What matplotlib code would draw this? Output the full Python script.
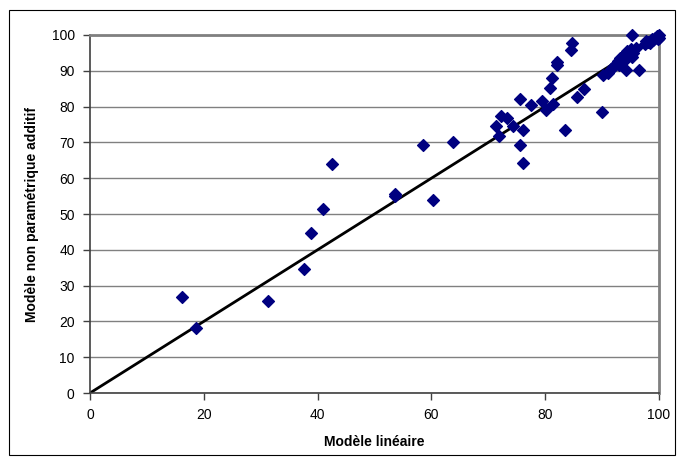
import matplotlib.pyplot as plt
from matplotlib.patches import Rectangle

plt.rcParams['font.family'] = ['Liberation Sans', 'DejaVu Sans']

# scores: linear model (x) vs. additive model (y)
lin = [16.2, 18.6, 31.3, 37.6, 38.8, 41.0, 42.5, 53.6, 53.6, 58.5, 60.3, 63.8,
       71.4, 71.9, 72.2, 73.3, 74.3, 75.6, 76.1, 75.6, 76.1, 77.5, 79.4, 80.1,
       81.4, 80.8, 81.2, 82.1, 82.0, 83.5, 84.7, 84.5, 85.6, 86.8, 90.0, 90.2,
       91.0, 91.5, 92.0, 92.5, 93.0, 93.2, 93.5, 93.8, 94.0, 94.3, 94.6, 95.0,
       95.2, 95.5, 96.0, 94.2, 96.5, 95.3, 97.5, 98.0, 98.5, 99.0, 99.3, 99.6,
       100.0, 99.8, 98.8, 100.0, 97.8, 92.8, 94.8]
add = [26.8, 18.2, 25.7, 34.6, 44.7, 51.4, 64.0, 55.6, 55.0, 69.3, 53.9, 70.1,
       74.6, 71.8, 77.4, 76.8, 74.6, 82.1, 73.5, 69.3, 64.2, 80.4, 81.6, 79.1,
       80.7, 85.2, 88.0, 91.6, 92.5, 73.5, 97.8, 95.8, 82.7, 84.9, 78.5, 88.8,
       89.5, 90.5, 91.0, 92.0, 91.5, 93.5, 92.5, 94.5, 93.0, 95.5, 94.0, 96.0,
       93.8, 95.0, 96.5, 90.2, 90.2, 100.0, 97.5, 98.0, 97.8, 98.5, 99.2, 99.6,
       100.0, 99.0, 98.8, 99.3, 98.3, 92.8, 95.2]

fig = plt.figure(figsize=(6.8, 4.65), dpi=100)
ax = fig.add_axes([90 / 680, 1 - 393 / 465, 569 / 680, 358 / 465])

# outer frame of the chart
fig.patches.append(Rectangle((9 / 680, 1 - 455 / 465), 666 / 680, 445 / 465,
                             transform=fig.transFigure, fill=False,
                             edgecolor='black', linewidth=0.8))

ax.set_xlim(0, 100)
ax.set_ylim(0, 100)
ax.set_xticks(range(0, 101, 20))
ax.set_yticks(range(0, 101, 10))
ax.yaxis.grid(True, color='#808080', linewidth=1)
ax.set_axisbelow(True)

ax.plot([0, 100], [0, 100], color='black', linewidth=2, zorder=2)
ax.scatter(lin, add, marker='D', s=36, color='#000080', edgecolor='#000080',
           zorder=3, clip_on=False)

for side in ('top', 'right'):
    ax.spines[side].set_color('#808080')
    ax.spines[side].set_linewidth(2)
for side in ('left', 'bottom'):
    ax.spines[side].set_color('#404040')
    ax.spines[side].set_linewidth(1.2)

ax.tick_params(direction='out', length=5, width=1, color='#404040',
               labelsize=10, pad=6)

ax.set_xlabel('Modèle linéaire', fontsize=10, fontweight='bold', labelpad=9)
fig.text(32 / 680, 1 - 215 / 465, 'Modèle non paramétrique additif',
         rotation=90, fontsize=10, fontweight='bold', ha='center', va='center')

fig.savefig('out.png', dpi=100)
